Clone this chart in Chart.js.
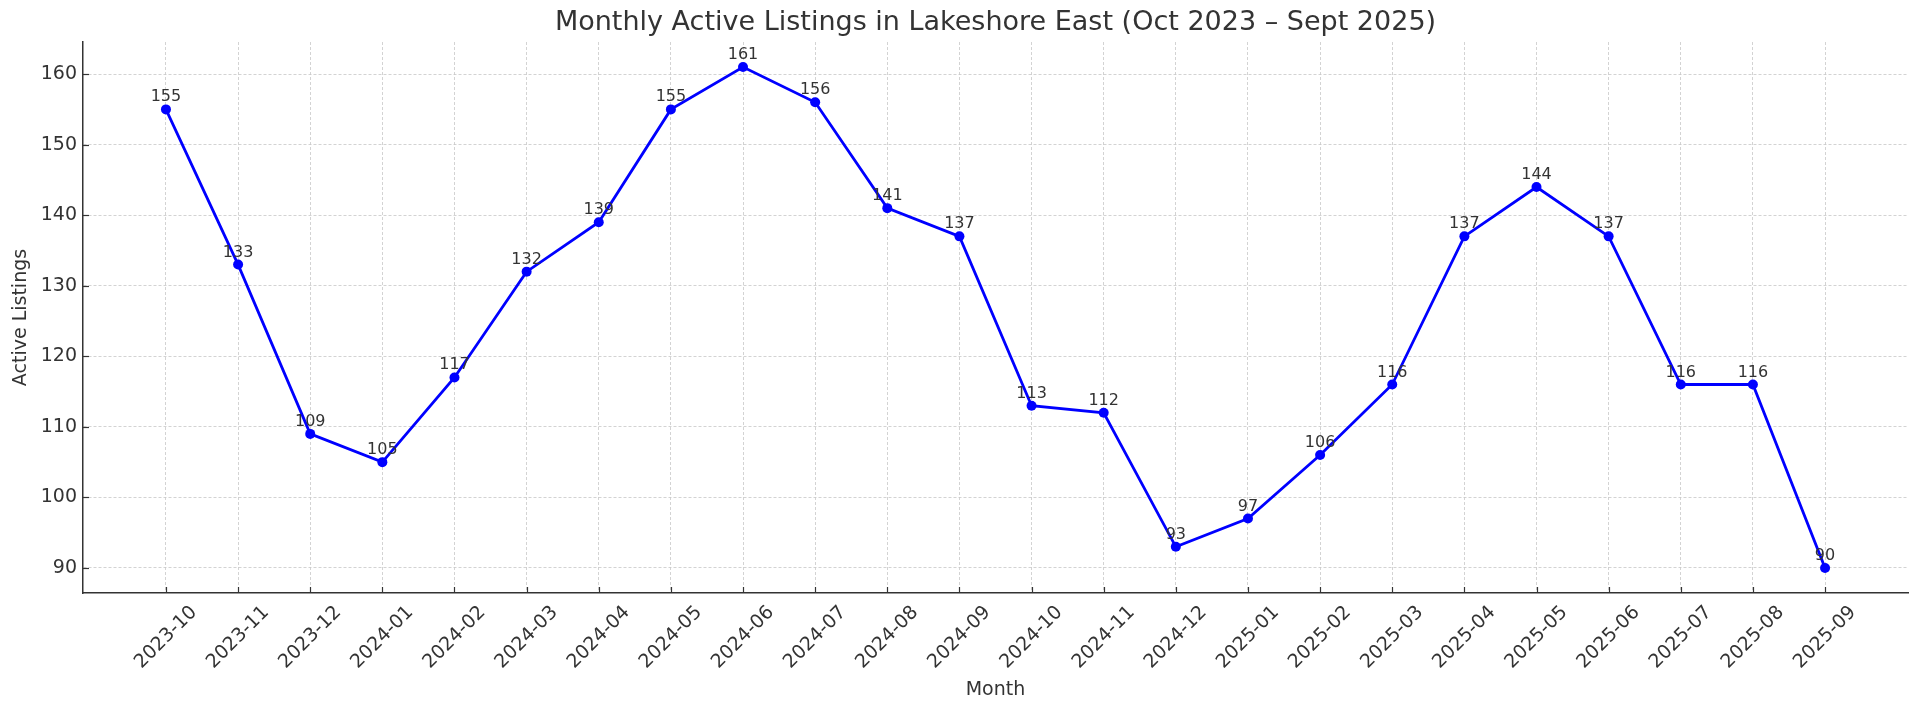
<!DOCTYPE html>
<html>
<head>
<meta charset="utf-8">
<script src="https://cdn.jsdelivr.net/npm/chart.js@4.4.1/dist/chart.umd.min.js"></script>
<style>
  html, body { margin: 0; padding: 0; background: #fff; }
  #wrap { width: 1920px; height: 712px; }
</style>
</head>
<body>
<div id="wrap"><canvas id="listingsChart" width="1920" height="712"></canvas></div>
<script>
// Months shown on the x axis
const months = ['2023-10', '2023-11', '2023-12', '2024-01', '2024-02', '2024-03', '2024-04', '2024-05',
    '2024-06', '2024-07', '2024-08', '2024-09', '2024-10', '2024-11', '2024-12', '2025-01',
    '2025-02', '2025-03', '2025-04', '2025-05', '2025-06', '2025-07', '2025-08', '2025-09'];

// Active listings per month
const activeListings = [155, 133, 109, 105, 117, 132, 139, 155, 161, 156, 141, 137,
    113, 112, 93, 97, 106, 116, 137, 144, 137, 116, 116, 90];

// Y tick values
const yTicks = [90, 100, 110, 120, 130, 140, 150, 160];

const FONT = "'DejaVu Sans', sans-serif";
const TEXT = '#333333';

// Draws tick marks (inward), rotated month labels and point value labels
const extrasPlugin = {
    id: 'extras',
    afterDatasetsDraw(chart) {
        const ctx = chart.ctx;
        const xs = chart.scales.x;
        const ys = chart.scales.y;
        const area = chart.chartArea;

        ctx.save();
        ctx.strokeStyle = TEXT;
        ctx.lineWidth = 1.2;
        months.forEach((m, i) => {
            const x = Math.round(xs.getPixelForValue(i)) + 0.5;
            ctx.beginPath();
            ctx.moveTo(x, area.bottom);
            ctx.lineTo(x, area.bottom - 6);
            ctx.stroke();
        });
        yTicks.forEach(v => {
            const y = Math.round(ys.getPixelForValue(v)) + 0.5;
            ctx.beginPath();
            ctx.moveTo(area.left, y);
            ctx.lineTo(area.left + 6, y);
            ctx.stroke();
        });

        // value labels above the points
        ctx.fillStyle = TEXT;
        ctx.font = '16px ' + FONT;
        ctx.textAlign = 'center';
        ctx.textBaseline = 'alphabetic';
        activeListings.forEach((v, i) => {
            ctx.fillText(String(v), xs.getPixelForValue(i), ys.getPixelForValue(v) - 8);
        });

        // month labels, rotated 45 deg and centred under each tick
        ctx.font = '19px ' + FONT;
        ctx.textBaseline = 'middle';
        const h = 19 * 1.1;
        months.forEach((m, i) => {
            const w = ctx.measureText(m).width;
            const boxH = (w + h) * Math.SQRT1_2;
            const cx = xs.getPixelForValue(i);
            const cy = area.bottom + 9 + boxH / 2;
            ctx.save();
            ctx.translate(cx, cy);
            ctx.rotate(-Math.PI / 4);
            ctx.fillText(m, 0, 0);
            ctx.restore();
        });
        ctx.restore();
    }
};

const gridStyle = {
    color: 'rgba(200, 200, 200, 0.8)',
    lineWidth: 1,
    drawTicks: false
};

new Chart(document.getElementById('listingsChart'), {
    type: 'line',
    data: {
        datasets: [{
            label: 'Active Listings',
            data: activeListings.map((v, i) => ({ x: i, y: v })),
            borderColor: '#0000ff',
            backgroundColor: '#0000ff',
            borderWidth: 2.8,
            pointRadius: 5,
            pointHoverRadius: 5,
            pointBorderWidth: 0,
            tension: 0,
            fill: false
        }]
    },
    options: {
        responsive: false,
        animation: false,
        layout: { padding: { left: 0, right: 12, top: 0, bottom: 0 } },
        plugins: {
            legend: { display: false },
            tooltip: { enabled: false },
            title: {
                display: true,
                fullSize: false,
                text: 'Monthly Active Listings in Lakeshore East (Oct 2023 – Sept 2025)',
                color: TEXT,
                font: { family: FONT, size: 27, weight: 'normal' },
                padding: { top: 7, bottom: 2.6 }
            }
        },
        scales: {
            x: {
                type: 'linear',
                min: -1.15,
                max: 24.15,
                grid: gridStyle,
                border: { display: true, color: TEXT, width: 1.5, dash: [3, 2] },
                ticks: { display: false, stepSize: 1 },
                afterBuildTicks: s => { s.ticks = months.map((m, i) => ({ value: i })); },
                afterFit: s => { s.height = 119; },
                title: {
                    display: true,
                    text: 'Month',
                    color: TEXT,
                    font: { family: FONT, size: 19 },
                    padding: { top: 0, bottom: 10.6 }
                }
            },
            y: {
                min: 86.45,
                max: 164.55,
                grid: gridStyle,
                border: { display: true, color: TEXT, width: 1.5, dash: [3, 2] },
                ticks: {
                    color: TEXT,
                    font: { family: FONT, size: 19 },
                    padding: 6
                },
                afterBuildTicks: s => { s.ticks = yTicks.map(v => ({ value: v })); },
                afterFit: s => { s.width = 83; },
                title: {
                    display: true,
                    text: 'Active Listings',
                    color: TEXT,
                    font: { family: FONT, size: 19 },
                    padding: { top: 9.6, bottom: 0 }
                }
            }
        }
    },
    plugins: [extrasPlugin]
});
</script>
</body>
</html>
